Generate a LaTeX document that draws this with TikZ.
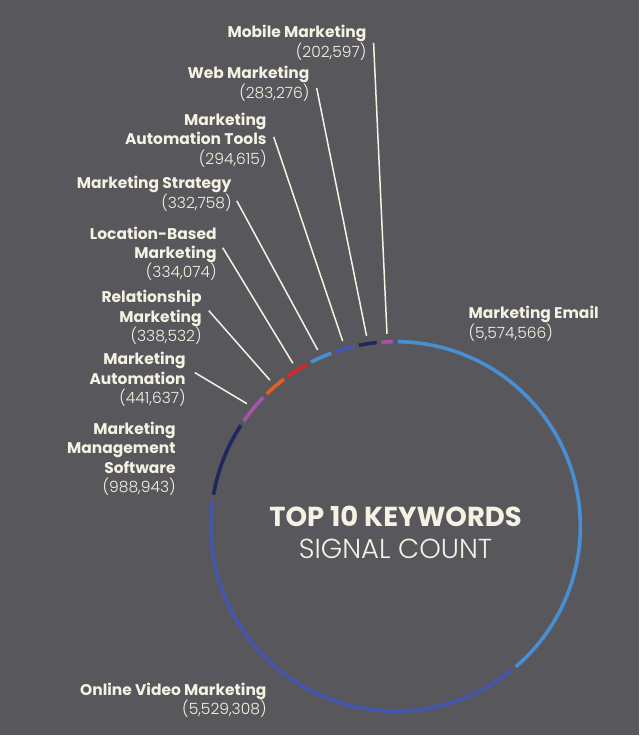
\documentclass[tikz,border=0pt]{standalone}
\usepackage{fontspec}
\setmainfont{Poppins}
\newfontfamily\lightfont{Poppins Light}
\usepackage{tikz}
\definecolor{charcoal}{RGB}{88, 88, 92}
\definecolor{cream}{RGB}{245, 242, 228}
\definecolor{steelblue}{RGB}{72, 142, 210}
\definecolor{indigo}{RGB}{68, 86, 174}
\definecolor{navy}{RGB}{30, 40, 92}
\definecolor{amethyst}{RGB}{166, 82, 168}
\definecolor{pumpkin}{RGB}{222, 97, 40}
\definecolor{crimson}{RGB}{212, 40, 45}
\newcommand{\kwcount}[1]{{\mdseries\lightfont #1}}
\tikzset{
    ring/.style={line width=3.6pt},
    leader/.style={cream, line width=1.5pt},
    lbl/.style={font=\fontsize{15.5}{19.5}\selectfont\bfseries, text=cream, inner sep=0pt}
}

\begin{document}
\begin{tikzpicture}[x=1pt, y=1pt]
            \fill[charcoal] (-396,-209) rectangle (244,527);
            % ring, clockwise from the top
            \draw[ring, steelblue] ( 89.25:185) arc[start angle= 89.25, end angle= -49.39, radius=185];
            \draw[ring, indigo]    (-50.89:185) arc[start angle=-50.89, end angle=-188.39, radius=185];
            \draw[ring, navy]      (170.11:185) arc[start angle=170.11, end angle= 146.75, radius=185];
            \draw[ring, amethyst]  (145.25:185) arc[start angle=145.25, end angle= 135.65, radius=185];
            \draw[ring, pumpkin]   (134.15:185) arc[start angle=134.15, end angle= 127.14, radius=185];
            \draw[ring, crimson]   (125.64:185) arc[start angle=125.64, end angle= 118.74, radius=185];
            \draw[ring, steelblue] (117.24:185) arc[start angle=117.24, end angle= 110.38, radius=185];
            \draw[ring, indigo]    (108.88:185) arc[start angle=108.88, end angle= 102.97, radius=185];
            \draw[ring, navy]      (101.47:185) arc[start angle=101.47, end angle=  95.85, radius=185];
            \draw[ring, amethyst]  ( 94.35:185) arc[start angle= 94.35, end angle=  90.75, radius=185];
            % title
            \node[font=\fontsize{27.5}{30}\selectfont\bfseries, text=cream] (title) at (0, 10) {TOP 10 KEYWORDS};
            \node[font=\fontsize{27.5}{30}\selectfont\lightfont, text=cream] (subtitle) at (0,-22) {SIGNAL COUNT};
            % labels
            \node[lbl, anchor=west, align=left]  (email)  at (  73, 203) {Marketing Email\\\kwcount{(5,574,566)}};
            \node[lbl, anchor=east, align=right] (video)  at (-129,-174) {Online Video Marketing\\\kwcount{(5,529,308)}};
            \node[lbl, anchor=east, align=right] (mms)    at (-220,  68) {Marketing\\Management\\Software\\\kwcount{(988,943)}};
            \node[lbl, anchor=east, align=right] (ma)     at (-210, 147) {Marketing\\Automation\\\kwcount{(441,637)}};
            \node[lbl, anchor=east, align=right] (rm)     at (-194, 209) {Relationship\\Marketing\\\kwcount{(338,532)}};
            \node[lbl, anchor=east, align=right] (lbm)    at (-179, 273) {Location-Based\\Marketing\\\kwcount{(334,074)}};
            \node[lbl, anchor=east, align=right] (ms)     at (-164, 333) {Marketing Strategy\\\kwcount{(332,758)}};
            \node[lbl, anchor=east, align=right] (mat)    at (-129, 387) {Marketing\\Automation Tools\\\kwcount{(294,615)}};
            \node[lbl, anchor=east, align=right] (web)    at ( -86, 443) {Web Marketing\\\kwcount{(283,276)}};
            \node[lbl, anchor=east, align=right] (mobile) at ( -29, 484) {Mobile Marketing\\\kwcount{(202,597)}};
            % leader ends on the ring
            \coordinate (maring)     at (140.45:193);
            \coordinate (rmring)     at (130.65:193);
            \coordinate (lbmring)    at (122.19:193);
            \coordinate (msring)     at (113.81:193);
            \coordinate (matring)    at (105.93:193);
            \coordinate (webring)    at ( 98.66:193);
            \coordinate (mobilering) at ( 92.55:193);
            \draw[leader] ([shift={(9, 7)}]ma.east)     -- (maring);
            \draw[leader] ([shift={(7, 7)}]rm.east)     -- (rmring);
            \draw[leader] ([shift={(6, 6)}]lbm.east)    -- (lbmring);
            \draw[leader] ([shift={(5,-7)}]ms.east)     -- (msring);
            \draw[leader] ([shift={(7, 3)}]mat.east)    -- (matring);
            \draw[leader] ([shift={(7,-4)}]web.east)    -- (webring);
            \draw[leader] ([shift={(7, 0)}]mobile.east) -- (mobilering);
        \end{tikzpicture}
\end{document}
